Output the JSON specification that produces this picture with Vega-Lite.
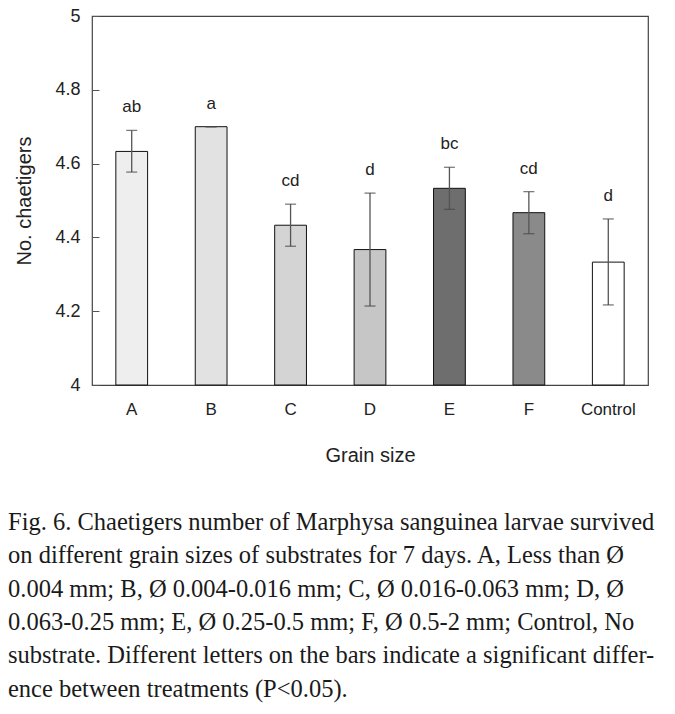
{
  "$schema": "https://vega.github.io/schema/vega-lite/v6.json",
  "width": 556,
  "height": 369,
  "autosize": {"type": "none"},
  "padding": {"left": 92, "top": 16, "right": 27, "bottom": 329},
  "background": "white",
  "data": {
    "values": [
      {"grain": "A", "mean": 4.633, "lower": 4.577, "upper": 4.690, "letter": "ab"},
      {"grain": "B", "mean": 4.700, "lower": 4.700, "upper": 4.700, "letter": "a"},
      {"grain": "C", "mean": 4.433, "lower": 4.376, "upper": 4.490, "letter": "cd"},
      {"grain": "D", "mean": 4.367, "lower": 4.214, "upper": 4.520, "letter": "d"},
      {"grain": "E", "mean": 4.533, "lower": 4.476, "upper": 4.590, "letter": "bc"},
      {"grain": "F", "mean": 4.467, "lower": 4.410, "upper": 4.524, "letter": "cd"},
      {"grain": "Control", "mean": 4.333, "lower": 4.217, "upper": 4.450, "letter": "d"}
    ]
  },
  "config": {
    "view": {"stroke": "#444", "strokeWidth": 1.2},
    "font": "Liberation Sans",
    "axis": {"domain": false, "grid": false, "labelFont": "Liberation Sans", "titleFont": "Liberation Sans", "labelColor": "#222", "titleColor": "#222", "titleFontWeight": "normal"}
  },
  "title": {
    "text": [
      "Fig. 6. Chaetigers number of Marphysa sanguinea larvae survived",
      "on different grain sizes of substrates for 7 days. A, Less than Ø",
      "0.004 mm; B, Ø 0.004-0.016 mm; C, Ø 0.016-0.063 mm; D, Ø",
      "0.063-0.25 mm; E, Ø 0.25-0.5 mm; F, Ø 0.5-2 mm; Control, No",
      "substrate. Different letters on the bars indicate a significant differ-",
      "ence between treatments (P<0.05)."
    ],
    "orient": "bottom",
    "anchor": "start",
    "frame": "group",
    "dx": -84,
    "offset": 46,
    "font": "Liberation Serif",
    "fontSize": 24.5,
    "fontWeight": "normal",
    "lineHeight": 33.3,
    "color": "#1a1a1a"
  },
  "encoding": {
    "x": {
      "field": "grain",
      "type": "nominal",
      "sort": null,
      "scale": {"paddingInner": 0.6, "paddingOuter": 0.3},
      "axis": {"labelAngle": 0, "ticks": false, "labelPadding": 16, "labelFontSize": 17, "title": "Grain size", "titleFontSize": 20, "titlePadding": 28}
    }
  },
  "layer": [
    {
      "mark": {"type": "bar", "stroke": "#111", "strokeWidth": 1},
      "encoding": {
        "y": {
          "field": "mean",
          "type": "quantitative",
          "scale": {"domain": [4, 5], "zero": false, "nice": false},
          "axis": {
            "values": [4, 4.2, 4.4, 4.6, 4.8, 5],
            "format": ".2~f",
            "offset": -7,
            "tickSize": 7,
            "tickColor": "#555",
            "labelPadding": 12,
            "labelFontSize": 18,
            "title": "No. chaetigers",
            "titleFontSize": 20,
            "titlePadding": 20
          }
        },
        "y2": {"datum": 4},
        "fill": {
          "field": "grain",
          "type": "nominal",
          "scale": {"domain": ["A", "B", "C", "D", "E", "F", "Control"], "range": ["#eeeeee", "#e2e2e2", "#d4d4d4", "#c6c6c6", "#6e6e6e", "#8a8a8a", "#ffffff"]},
          "legend": null
        }
      }
    },
    {
      "mark": {"type": "rule", "color": "#555", "strokeWidth": 1.3},
      "encoding": {"y": {"field": "lower", "type": "quantitative"}, "y2": {"field": "upper"}}
    },
    {
      "mark": {"type": "tick", "color": "#444", "size": 11, "thickness": 1.3},
      "encoding": {"y": {"field": "upper", "type": "quantitative"}}
    },
    {
      "mark": {"type": "tick", "color": "#444", "size": 11, "thickness": 1.3},
      "encoding": {"y": {"field": "lower", "type": "quantitative"}}
    },
    {
      "mark": {"type": "text", "fontSize": 17, "baseline": "bottom", "dy": -14, "color": "#222", "font": "Liberation Sans"},
      "encoding": {"y": {"field": "upper", "type": "quantitative"}, "text": {"field": "letter"}}
    }
  ]
}
